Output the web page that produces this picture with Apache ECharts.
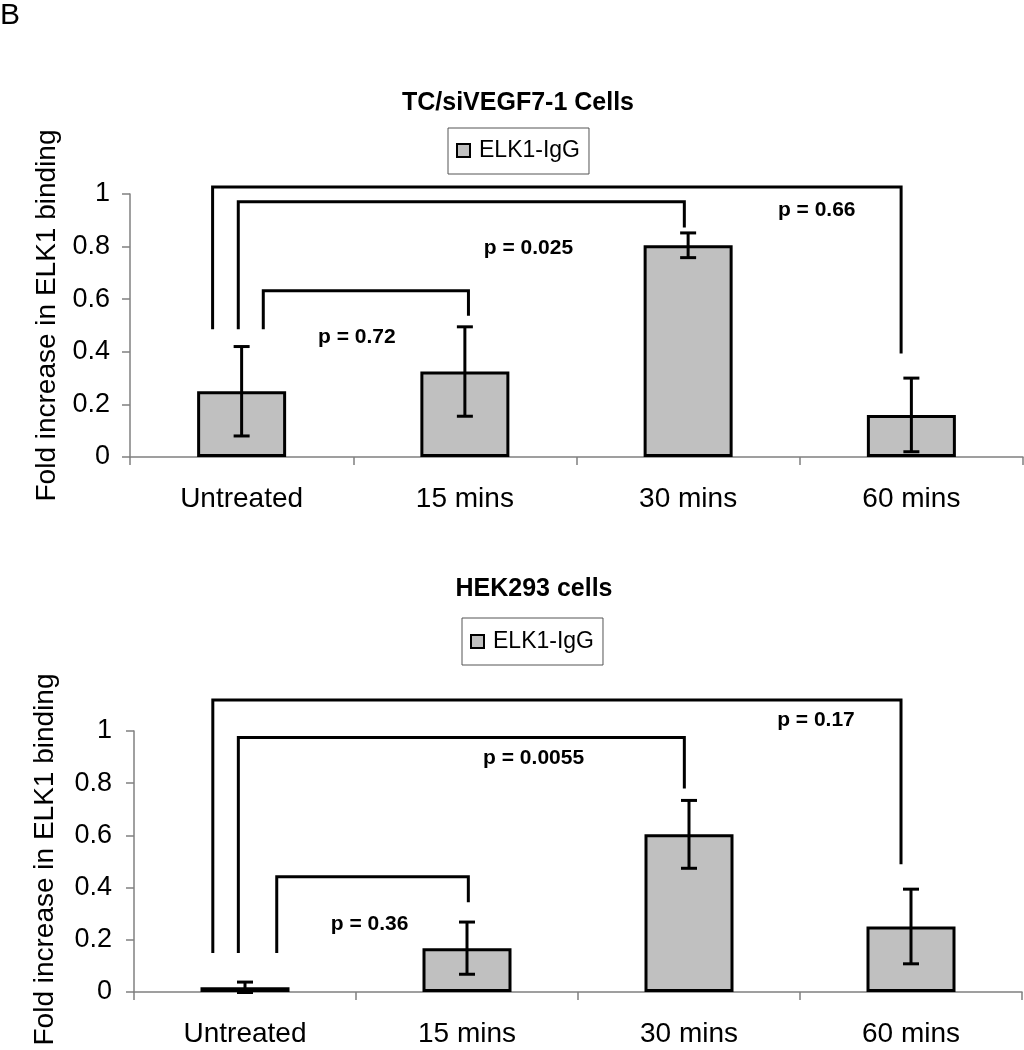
<!DOCTYPE html>
<html><head><meta charset="utf-8">
<script src="https://cdn.jsdelivr.net/npm/echarts@6/dist/echarts.min.js"></script>
<style>html,body{margin:0;padding:0;background:#fff}#c{width:1024px;height:1050px}</style>
</head><body><div id="c"></div>
<script>
// ---- data ----
const categories = ['Untreated', '15 mins', '30 mins', '60 mins'];
const seriesName = 'ELK1-IgG';
const yTicks = [0, 0.2, 0.4, 0.6, 0.8, 1];

const tcMeans = [0.25, 0.325, 0.805, 0.16];
const tcErr   = [0.17, 0.17, 0.047, 0.14];
const hekMeans = [0.018, 0.168, 0.604, 0.251];
const hekErr   = [0.02, 0.10, 0.13, 0.143];

// brackets: [xLeft, yBottomLeft, yTop, xRight, yBottomRight] in category-index units
const tcBrackets = [
  [-0.130, 0.486, 1.027, 2.954, 0.394],
  [-0.015, 0.486, 0.971, 1.983, 0.873],
  [0.097, 0.486, 0.632, 1.016, 0.537]
];
const hekBrackets = [
  [-0.145, 0.149, 1.119, 2.955, 0.489],
  [-0.030, 0.149, 0.975, 1.979, 0.780],
  [0.143, 0.149, 0.442, 1.006, 0.344]
];
const tcPTexts = ['p = 0.72', 'p = 0.025', 'p = 0.66'];
const tcPPos = [[0.516, 0.454], [1.285, 0.795], [2.576, 0.939]];
const hekPTexts = ['p = 0.36', 'p = 0.0055', 'p = 0.17'];
const hekPPos = [[0.561, 0.261], [1.300, 0.896], [2.572, 1.041]];

// ---- chart ----
const FONT = '"Liberation Sans", Arial, sans-serif';
const axisGray = '#808080';
const barFill = '#c0c0c0';

function errData(means, errs) {
  return means.map((m, i) => [i, m - errs[i], m + errs[i]]);
}
function errRender(params, api) {
  const x = api.value(0);
  const lo = api.coord([x, api.value(1)]);
  const hi = api.coord([x, api.value(2)]);
  const w = 8;
  const st = { stroke: '#000', lineWidth: 3 };
  return { type: 'group', children: [
    { type: 'line', shape: { x1: lo[0], y1: lo[1], x2: hi[0], y2: hi[1] }, style: st },
    { type: 'line', shape: { x1: hi[0] - w, y1: hi[1], x2: hi[0] + w, y2: hi[1] }, style: st },
    { type: 'line', shape: { x1: lo[0] - w, y1: lo[1], x2: lo[0] + w, y2: lo[1] }, style: st }
  ]};
}
function bracketRender(params, api) {
  const xl = api.value(0), ybl = api.value(1), yt = api.value(2), xr = api.value(3), ybr = api.value(4);
  const pts = [api.coord([xl, ybl]), api.coord([xl, yt]), api.coord([xr, yt]), api.coord([xr, ybr])];
  return { type: 'polyline', shape: { points: pts },
    style: { stroke: '#000', lineWidth: 3, fill: null, lineJoin: 'miter', lineCap: 'butt' } };
}
function pRender(texts) {
  return function (params, api) {
    const p = api.coord([api.value(0), api.value(1)]);
    return { type: 'text', x: p[0], y: p[1],
      style: { text: texts[params.dataIndex], align: 'center', verticalAlign: 'middle',
        font: 'bold 21px ' + FONT, fill: '#000' } };
  };
}

function catAxis(gridIndex, margin) {
  return {
    type: 'category', gridIndex, data: categories,
    axisLine: { onZero: false, lineStyle: { color: axisGray, width: 1.5 } },
    axisTick: { show: true, length: 8, lineStyle: { color: axisGray, width: 1.5 } },
    axisLabel: { fontSize: 28, color: '#000', fontFamily: FONT, margin }
  };
}
function valXAxis(gridIndex) {
  return { type: 'value', gridIndex, min: -0.5, max: 3.5, show: false };
}
function valYAxis(gridIndex, nameGap, labelMargin, namePad) {
  return {
    type: 'value', gridIndex, min: 0, max: 1, interval: 0.2,
    name: 'Fold increase in ELK1 binding', nameLocation: 'middle', nameGap,
    nameTextStyle: { fontSize: 28, color: '#000', fontFamily: FONT, padding: namePad },
    axisLine: { show: true, onZero: false, lineStyle: { color: axisGray, width: 1.5 } },
    axisTick: { show: true, length: 8, lineStyle: { color: axisGray, width: 1.5 } },
    axisLabel: { fontSize: 27, color: '#000', fontFamily: FONT, margin: labelMargin,
      customValues: yTicks, formatter: v => String(+v.toFixed(1)) },
    splitLine: { show: false }
  };
}
function legendFor(left, top, pad) {
  return {
    data: [seriesName], left, top, padding: pad,
    itemWidth: 13, itemHeight: 13, icon: 'rect',
    borderColor: '#555', borderWidth: 1, backgroundColor: '#fff',
    selectedMode: false,
    itemStyle: { color: barFill, borderColor: '#000', borderWidth: 2 },
    textStyle: { fontSize: 23, color: '#000', fontFamily: FONT, padding: [0, 0, 0, 4] }
  };
}

const option = {
  animation: false,
  backgroundColor: '#fff',
  textStyle: { fontFamily: FONT },
  title: [
    { text: 'B', left: 0, top: 1, padding: 0,
      textStyle: { fontSize: 30, fontWeight: 'normal', color: '#000', fontFamily: FONT } },
    { text: 'TC/siVEGF7-1 Cells', left: 518, top: 91, padding: 0, textAlign: 'center',
      textStyle: { fontSize: 25, fontWeight: 'bold', color: '#000', fontFamily: FONT } },
    { text: 'HEK293 cells', left: 534, top: 577, padding: 0, textAlign: 'center',
      textStyle: { fontSize: 25, fontWeight: 'bold', color: '#000', fontFamily: FONT } }
  ],
  legend: [ legendFor(448, 128, [11, 9, 12, 8]), legendFor(462, 618, [12, 9, 12, 8]) ],
  grid: [
    { left: 130, right: 1, top: 194, height: 263 },
    { left: 134, right: 2, top: 731, height: 261 }
  ],
  xAxis: [ catAxis(0, 28), valXAxis(0), catAxis(1, 28), valXAxis(1) ],
  yAxis: [ valYAxis(0, 65, 20, [0, 0, 0, 20]), valYAxis(1, 75, 22, [0, 0, 0, 4]) ],
  series: [
    { name: seriesName, type: 'bar', xAxisIndex: 0, yAxisIndex: 0, data: tcMeans, barWidth: 89,
      itemStyle: { color: barFill, borderColor: '#000', borderWidth: 3 } },
    { name: 'tcErr', type: 'custom', xAxisIndex: 0, yAxisIndex: 0, data: errData(tcMeans, tcErr),
      renderItem: errRender, z: 5, encode: { x: 0, y: [1, 2] } },
    { name: 'tcBr', type: 'custom', xAxisIndex: 1, yAxisIndex: 0, data: tcBrackets,
      renderItem: bracketRender, z: 5, encode: { x: [0, 3], y: [1, 2, 4] } },
    { name: 'tcP', type: 'custom', xAxisIndex: 1, yAxisIndex: 0, data: tcPPos,
      renderItem: pRender(tcPTexts), z: 6 },

    { name: seriesName, type: 'bar', xAxisIndex: 2, yAxisIndex: 1, data: hekMeans, barWidth: 89,
      itemStyle: { color: barFill, borderColor: '#000', borderWidth: 3 } },
    { name: 'hekErr', type: 'custom', xAxisIndex: 2, yAxisIndex: 1, data: errData(hekMeans, hekErr),
      renderItem: errRender, z: 5, encode: { x: 0, y: [1, 2] } },
    { name: 'hekBr', type: 'custom', xAxisIndex: 3, yAxisIndex: 1, data: hekBrackets,
      renderItem: bracketRender, z: 5, encode: { x: [0, 3], y: [1, 2, 4] } },
    { name: 'hekP', type: 'custom', xAxisIndex: 3, yAxisIndex: 1, data: hekPPos,
      renderItem: pRender(hekPTexts), z: 6 }
  ]
};
const chart = echarts.init(document.getElementById('c'), null, { renderer: 'canvas' });
chart.setOption(option);
</script>
</body></html>
